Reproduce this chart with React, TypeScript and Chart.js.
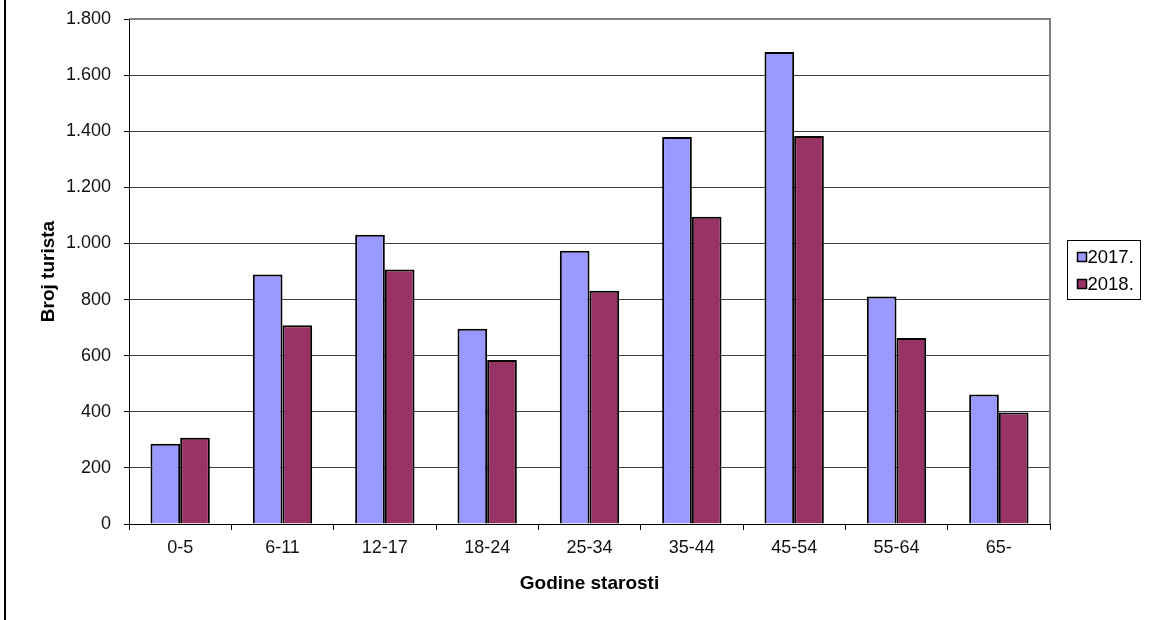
import React, { useEffect, useRef } from "react";
import { Chart, registerables } from "chart.js";

Chart.register(...registerables);

const categories = ["0-5", "6-11", "12-17", "18-24", "25-34", "35-44", "45-54", "55-64", "65-"];
const values2017 = [286, 889, 1031, 696, 974, 1379, 1682, 811, 462];
const values2018 = [307, 708, 907, 585, 831, 1095, 1383, 663, 397];
const seriesLabels = ["2017.", "2018."];
const seriesColors = ["#9999FF", "#993366"];
const yTitle = "Broj turista";
const xTitle = "Godine starosti";

const FONT = "'Liberation Sans', Arial, sans-serif";

function fmt(v: number): string {
  const s = String(Math.round(v));
  return s.replace(/\B(?=(\d{3})+(?!\d))/g, ".");
}

const framePlugin = {
  id: "framePlugin",
  afterDatasetsDraw(chart: any) {
    const { ctx, chartArea } = chart;
    ctx.save();
    ctx.strokeStyle = "#808080";
    ctx.lineWidth = 2;
    ctx.beginPath();
    ctx.moveTo(chartArea.left, chartArea.top);
    ctx.lineTo(chartArea.right, chartArea.top);
    ctx.lineTo(chartArea.right, chartArea.bottom);
    ctx.stroke();
    ctx.restore();
  },
  afterDraw(chart: any) {
    const { ctx } = chart;
    ctx.save();
    ctx.strokeStyle = "#000";
    ctx.lineWidth = 2;
    ctx.beginPath();
    ctx.moveTo(5, 0);
    ctx.lineTo(5, chart.height);
    ctx.stroke();

    const bx = 1067.5, by = 240.5, bw = 73, bh = 59;
    ctx.lineWidth = 1;
    ctx.strokeStyle = "#000";
    ctx.fillStyle = "#fff";
    ctx.fillRect(bx, by, bw, bh);
    ctx.strokeRect(bx, by, bw, bh);
    const rows = [257, 284];
    chart.data.datasets.forEach((ds: any, i: number) => {
      const cy = rows[i];
      ctx.fillStyle = ds.backgroundColor;
      ctx.fillRect(1078, cy - 4, 8, 8);
      ctx.strokeStyle = "#000";
      ctx.lineWidth = 1.5;
      ctx.strokeRect(1077.5, cy - 4.5, 9, 9);
      ctx.fillStyle = "#000";
      ctx.font = `18.5px ${FONT}`;
      ctx.textBaseline = "middle";
      ctx.textAlign = "left";
      ctx.fillText(ds.label, 1087.5, cy + 1);
    });
    ctx.restore();
  },
};

export default function App() {
  const canvasRef = useRef<HTMLCanvasElement | null>(null);

  useEffect(() => {
    if (!canvasRef.current) return;
    const chart = new Chart(canvasRef.current, {
      type: "bar",
      data: {
        labels: categories,
        datasets: [
          {
            label: seriesLabels[0],
            data: values2017,
            backgroundColor: seriesColors[0],
            borderColor: "#000",
            borderWidth: 2,
          },
          {
            label: seriesLabels[1],
            data: values2018,
            backgroundColor: seriesColors[1],
            borderColor: "#000",
            borderWidth: 2,
          },
        ],
      },
      options: {
        responsive: false,
        animation: false,
        layout: { padding: { left: 0, right: 101, top: 19, bottom: 0 } },
        datasets: {
          bar: { categoryPercentage: 0.58, barPercentage: 1.0 },
        },
        plugins: {
          legend: { display: false },
          tooltip: { enabled: false },
        },
        scales: {
          x: {
            offset: true,
            grid: {
              display: true,
              offset: true,
              drawOnChartArea: false,
              drawTicks: true,
              tickLength: 6,
              tickColor: "#000",
            },
            border: { display: true, color: "#000", width: 1 },
            ticks: {
              color: "#111",
              font: { family: FONT, size: 18 },
              padding: 7,
              maxRotation: 0,
              autoSkip: false,
            },
            title: {
              display: true,
              text: xTitle,
              color: "#000",
              font: { family: FONT, size: 19, weight: "bold" },
              padding: { top: 0, bottom: 25 },
            },
            afterFit: (scale: any) => {
              scale.height = 96;
              scale.paddingLeft = 0;
              scale.paddingRight = 0;
            },
          },
          y: {
            min: 0,
            max: 1800,
            ticks: {
              stepSize: 200,
              color: "#111",
              font: { family: FONT, size: 18 },
              padding: 13,
              callback: (v: any) => fmt(Number(v)),
            },
            grid: {
              color: "#404040",
              lineWidth: 1,
              drawTicks: true,
              tickLength: 5,
              tickColor: "#000",
            },
            border: { display: true, color: "#000", width: 1 },
            title: {
              display: true,
              text: yTitle,
              color: "#000",
              font: { family: FONT, size: 19, weight: "bold" },
              padding: { top: 37, bottom: 0 },
            },
            afterFit: (scale: any) => {
              scale.width = 129;
              scale.paddingTop = 0;
              scale.paddingBottom = 0;
            },
          },
        },
      },
      plugins: [framePlugin],
    });
    return () => chart.destroy();
  }, []);

  return (
    <div style={{ position: "absolute", left: 0, top: 0, width: 1151, height: 620, background: "#fff" }}>
      <canvas ref={canvasRef} width={1151} height={620} style={{ display: "block" }} />
    </div>
  );
}
